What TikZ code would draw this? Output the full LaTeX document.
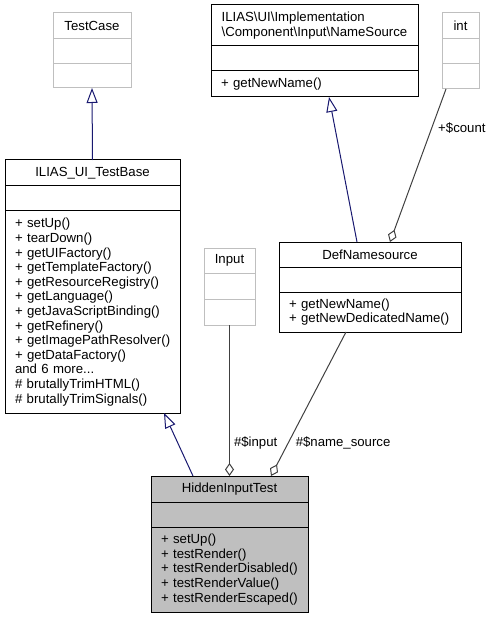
\documentclass[tikz,border=0pt]{standalone}
\usepackage{fontspec}
\setmainfont{Liberation Sans}
\usetikzlibrary{positioning,arrows.meta}

\definecolor{inheritblue}{HTML}{191970}
\definecolor{usegrey}{HTML}{404040}
\definecolor{paleframe}{HTML}{BFBFBF}
\definecolor{focusfill}{HTML}{BFBFBF}

\tikzset{
  part/.style={draw=black, line width=1pt, inner xsep=0pt, inner ysep=0pt,
    outer sep=0pt, font=\fontsize{13.2}{14.6}\selectfont},
  pale/.style={part, draw=paleframe},
  ops/.style={part, align=left, inner xsep=10pt,
    execute at begin node={\hyphenpenalty=10000\exhyphenpenalty=10000\hbadness=10000\hfuzz=50pt}},
  inherit/.style={draw=inheritblue, line width=1pt,
    -{Triangle[open, length=15pt, width=11pt, fill=white]}},
  member/.style={draw=usegrey, line width=1pt,
    {Diamond[open, length=13pt, width=9pt, fill=white]}-},
  role/.style={font=\fontsize{13.2}{14.6}\selectfont, inner sep=0pt, anchor=west}
}

\begin{document}
\begin{tikzpicture}[x=1pt, y=1pt]
  \useasboundingbox (0,0) rectangle (490,-617);

  % TestCase
  \node[pale, anchor=north west, minimum width=78pt, minimum height=26pt] (tc) at (53,-13) {TestCase};
  \node[pale, below=0pt of tc, minimum width=78pt, minimum height=25pt] (tc-attr) {};
  \node[pale, below=0pt of tc-attr, minimum width=78pt, minimum height=24pt] (tc-ops) {};

  % NameSource interface
  \node[part, align=left, anchor=north west, minimum width=207pt, minimum height=41pt] (ns) at (211,-5)
    {ILIAS\textbackslash UI\textbackslash Implementation\\\textbackslash Component\textbackslash Input\textbackslash NameSource};
  \node[part, below=0pt of ns, minimum width=207pt, minimum height=25pt] (ns-attr) {};
  \node[ops, below=0pt of ns-attr, text width=187pt, minimum height=26pt] (ns-ops) {+~getNewName()};

  % int
  \node[pale, anchor=north west, minimum width=37pt, minimum height=26pt] (int) at (442,-13) {int};
  \node[pale, below=0pt of int, minimum width=37pt, minimum height=25pt] (int-attr) {};
  \node[pale, below=0pt of int-attr, minimum width=37pt, minimum height=25pt] (int-ops) {};

  % ILIAS_UI_TestBase
  \node[part, anchor=north west, minimum width=175pt, minimum height=26pt] (tb) at (5,-160) {ILIAS\_UI\_TestBase};
  \node[part, below=0pt of tb, minimum width=175pt, minimum height=25pt] (tb-attr) {};
  \node[ops, below=0pt of tb-attr, text width=155pt, minimum height=202pt] (tb-ops)
    {+~setUp()\\+~tearDown()\\+~getUIFactory()\\+~getTemplateFactory()\\+~getResourceRegistry()\\
     +~getLanguage()\\+~getJavaScriptBinding()\\+~getRefinery()\\+~getImagePathResolver()\\
     +~getDataFactory()\\and~6~more...\\\#~brutallyTrimHTML()\\\#~brutallyTrimSignals()};

  % Input
  \node[pale, anchor=north west, minimum width=51pt, minimum height=25pt] (inp) at (204,-248) {Input};
  \node[pale, below=0pt of inp, minimum width=51pt, minimum height=26pt] (inp-attr) {};
  \node[pale, below=0pt of inp-attr, minimum width=51pt, minimum height=26pt] (inp-ops) {};

  % DefNamesource
  \node[part, anchor=north west, minimum width=182pt, minimum height=25pt] (dn) at (279,-242) {DefNamesource};
  \node[part, below=0pt of dn, minimum width=182pt, minimum height=25pt] (dn-attr) {};
  \node[ops, below=0pt of dn-attr, text width=162pt, minimum height=40pt] (dn-ops)
    {+~getNewName()\\+~getNewDedicatedName()};

  % HiddenInputTest
  \node[part, fill=focusfill, anchor=north west, minimum width=157pt, minimum height=26pt] (hit) at (151,-476) {HiddenInputTest};
  \node[part, fill=focusfill, below=0pt of hit, minimum width=157pt, minimum height=25pt] (hit-attr) {};
  \node[ops, fill=focusfill, below=0pt of hit-attr, text width=137pt, minimum height=85pt] (hit-ops)
    {+~setUp()\\+~testRender()\\+~testRenderDisabled()\\+~testRenderValue()\\+~testRenderEscaped()};

  % Inheritance
  \draw[inherit] (tb.north) -- (tc-ops.south);
  \draw[inherit] ([xshift=42pt]hit.north west) -- ([xshift=-16pt]tb-ops.south east);
  \draw[inherit] ([xshift=78pt]dn.north west) -- ([xshift=118pt]ns-ops.south west);

  % Members
  \draw[member] ([xshift=111pt]dn.north west) -- ([xshift=4pt]int-ops.south west)
    node[role, pos=0.745, xshift=6pt] {+\$count};
  \draw[member] (hit.north) -- (inp-ops.south)
    node[role, pos=0.22, xshift=4pt] {\#\$input};
  \draw[member] ([xshift=120pt]hit.north west) -- ([xshift=67pt]dn-ops.south west)
    node[role, pos=0.23, xshift=7pt] {\#\$name\_source};
\end{tikzpicture}
\end{document}
